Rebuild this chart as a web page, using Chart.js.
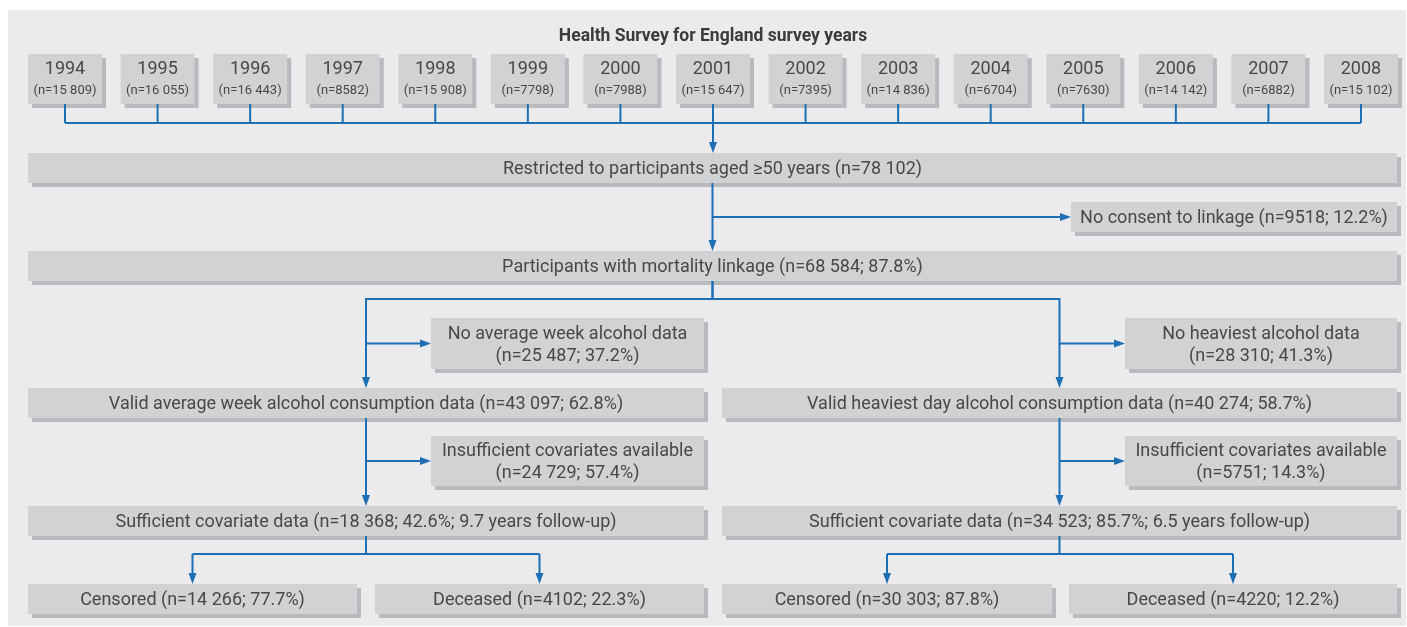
<!DOCTYPE html>
<html>
<head>
<meta charset="utf-8">
<script src="https://cdn.jsdelivr.net/npm/chart.js@4.4.1/dist/chart.umd.min.js"></script>
<style>
  html, body { margin: 0; padding: 0; background: #fff; }
  #wrap { width: 1407px; height: 627px; }
</style>
</head>
<body>
<div id="wrap"><canvas id="flow" width="1407" height="627"></canvas></div>
<script>
// --- data ---
const chartTitle = 'Health Survey for England survey years';
const surveyYears = ['1994', '1995', '1996', '1997', '1998', '1999', '2000', '2001',
  '2002', '2003', '2004', '2005', '2006', '2007', '2008'];
const surveyCounts = ['(n=15 809)', '(n=16 055)', '(n=16 443)', '(n=8582)', '(n=15 908)',
  '(n=7798)', '(n=7988)', '(n=15 647)', '(n=7395)', '(n=14 836)', '(n=6704)',
  '(n=7630)', '(n=14 142)', '(n=6882)', '(n=15 102)'];
const stepLabels = [
  ['Restricted to participants aged ≥50 years (n=78 102)'],
  ['No consent to linkage (n=9518; 12.2%)'],
  ['Participants with mortality linkage (n=68 584; 87.8%)'],
  ['No average week alcohol data', '(n=25 487; 37.2%)'],
  ['Valid average week alcohol consumption data (n=43 097; 62.8%)'],
  ['Insufficient covariates available', '(n=24 729; 57.4%)'],
  ['Sufficient covariate data (n=18 368; 42.6%; 9.7 years follow-up)'],
  ['Censored (n=14 266; 77.7%)'],
  ['Deceased (n=4102; 22.3%)'],
  ['No heaviest alcohol data', '(n=28 310; 41.3%)'],
  ['Valid heaviest day alcohol consumption data (n=40 274; 58.7%)'],
  ['Insufficient covariates available', '(n=5751; 14.3%)'],
  ['Sufficient covariate data (n=34 523; 85.7%; 6.5 years follow-up)'],
  ['Censored (n=30 303; 87.8%)'],
  ['Deceased (n=4220; 12.2%)']
];

// --- layout (design units = pixels of a 1407 x 627 page) ---
const cols = {
  full: [28, 1397], left: [28, 704], right: [722, 1397],
  sideL: [431, 704], sideR: [1125, 1397], consent: [1071, 1397],
  q1: [28, 357], q2: [375, 704], q3: [722, 1052], q4: [1069, 1397]
};
const rows = {
  years: [54, 104], restrict: [153, 183], consent: [202, 232], linked: [251, 281],
  missing: [318, 369], valid: [388, 418], covar: [436, 486],
  sufficient: [506, 536], outcome: [584, 614]
};
const stepBoxes = [
  ['full', 'restrict'], ['consent', 'consent'], ['full', 'linked'],
  ['sideL', 'missing'], ['left', 'valid'], ['sideL', 'covar'], ['left', 'sufficient'],
  ['q1', 'outcome'], ['q2', 'outcome'],
  ['sideR', 'missing'], ['right', 'valid'], ['sideR', 'covar'], ['right', 'sufficient'],
  ['q3', 'outcome'], ['q4', 'outcome']
];
const yearLeft = 28, yearWidth = 74, yearPitch = 92.57;
const bracketY = 123, splitY = 299, outcomeY = 554;

const BLUE = '#1f6fb5';
const BOX = '#d1d2d4';
const SHADOW = '#b9babd';
const INK = '#48484a';
const FONT = 'Roboto, "Noto Sans", sans-serif';
const ARROW_LEN = 11, ARROW_HALF = 4;

const mid = (a) => (a[0] + a[1]) / 2;
const yearCx = (i) => yearLeft + i * yearPitch + yearWidth / 2;

// connectors built from the layout
const links = [];
surveyYears.forEach((y, i) => {
  if (i !== 7) links.push({ pts: [[yearCx(i), rows.years[1]], [yearCx(i), bracketY]] });
});
links.push({ pts: [[yearCx(0), bracketY], [yearCx(14), bracketY]] });
links.push({ pts: [[yearCx(7), rows.years[1]], [yearCx(7), rows.restrict[0]]], arrow: true });
const trunk = mid(cols.full);
links.push({ pts: [[trunk, rows.restrict[1]], [trunk, rows.linked[0]]], arrow: true });
links.push({ pts: [[trunk, mid(rows.consent)], [cols.consent[0], mid(rows.consent)]], arrow: true });
[['left', 'sideL', 'q1', 'q2'], ['right', 'sideR', 'q3', 'q4']].forEach(([c, s, a, b]) => {
  const x = mid(cols[c]);
  links.push({ pts: [[trunk, rows.linked[1]], [trunk, splitY], [x, splitY], [x, rows.valid[0]]], arrow: true });
  links.push({ pts: [[x, mid(rows.missing)], [cols[s][0], mid(rows.missing)]], arrow: true });
  links.push({ pts: [[x, rows.valid[1]], [x, rows.sufficient[0]]], arrow: true });
  links.push({ pts: [[x, mid(rows.covar)], [cols[s][0], mid(rows.covar)]], arrow: true });
  links.push({ pts: [[x, rows.sufficient[1]], [x, outcomeY]] });
  links.push({ pts: [[mid(cols[a]), outcomeY], [mid(cols[a]), rows.outcome[0]]], arrow: true });
  links.push({ pts: [[mid(cols[b]), outcomeY], [mid(cols[b]), rows.outcome[0]]], arrow: true });
  links.push({ pts: [[mid(cols[a]), outcomeY], [mid(cols[b]), outcomeY]] });
});

// shorten arrowed lines so the head covers the end
function trimmed(pts) {
  const p = pts.map((q) => q.slice());
  const n = p.length, a = p[n - 2], b = p[n - 1];
  const dx = b[0] - a[0], dy = b[1] - a[1], len = Math.hypot(dx, dy);
  b[0] -= dx / len * (ARROW_LEN - 2);
  b[1] -= dy / len * (ARROW_LEN - 2);
  return p;
}

const datasets = links.map((l) => ({
  data: (l.arrow ? trimmed(l.pts) : l.pts).map(([x, y]) => ({ x, y })),
  arrowTo: l.arrow ? l.pts[l.pts.length - 1] : null,
  arrowFrom: l.arrow ? l.pts[l.pts.length - 2] : null,
  showLine: true,
  borderColor: BLUE,
  borderWidth: 2,
  borderJoinStyle: 'miter',
  borderCapStyle: 'butt',
  pointRadius: 0,
  pointHoverRadius: 0,
  tension: 0,
  fill: false
}));

function drawBox(ctx, sx, sy, x0, x1, y0, y1) {
  const l = sx.getPixelForValue(x0), r = sx.getPixelForValue(x1);
  const t = sy.getPixelForValue(y0), b = sy.getPixelForValue(y1);
  ctx.fillStyle = SHADOW;
  ctx.fillRect(l + 4, t + 4, r - l, b - t);
  ctx.fillStyle = BOX;
  ctx.fillRect(l, t, r - l, b - t);
}

const flowPlugin = {
  id: 'flow',
  beforeDraw(chart) {
    const { ctx } = chart;
    const sx = chart.scales.x, sy = chart.scales.y;
    ctx.save();
    ctx.fillStyle = '#ffffff';
    ctx.fillRect(0, 0, chart.width, chart.height);
    ctx.fillStyle = '#ebebed';
    const l = sx.getPixelForValue(8), t = sy.getPixelForValue(10);
    ctx.fillRect(l, t, sx.getPixelForValue(1406) - l, sy.getPixelForValue(626) - t);

    ctx.textAlign = 'center';
    ctx.textBaseline = 'middle';
    ctx.fillStyle = '#3b3b3d';
    ctx.font = `bold 17.5px ${FONT}`;
    ctx.fillText(chartTitle, sx.getPixelForValue(713), sy.getPixelForValue(36.5));

    surveyYears.forEach((yr, i) => {
      const x0 = yearLeft + i * yearPitch;
      drawBox(ctx, sx, sy, x0, x0 + yearWidth, rows.years[0], rows.years[1]);
      ctx.fillStyle = INK;
      ctx.font = `18px ${FONT}`;
      ctx.fillText(yr, sx.getPixelForValue(yearCx(i)), sy.getPixelForValue(69));
      ctx.font = `13px ${FONT}`;
      ctx.fillText(surveyCounts[i], sx.getPixelForValue(yearCx(i)), sy.getPixelForValue(91));
    });

    stepBoxes.forEach(([c, r], i) => {
      drawBox(ctx, sx, sy, cols[c][0], cols[c][1], rows[r][0], rows[r][1]);
      const lines = stepLabels[i];
      ctx.fillStyle = INK;
      ctx.font = `18px ${FONT}`;
      const cy = mid(rows[r]) + 1.5;
      lines.forEach((txt, k) => {
        const y = cy + (k - (lines.length - 1) / 2) * 22;
        ctx.fillText(txt, sx.getPixelForValue(mid(cols[c])), sy.getPixelForValue(y));
      });
    });
    ctx.restore();
  },
  afterDatasetsDraw(chart) {
    const { ctx } = chart;
    const sx = chart.scales.x, sy = chart.scales.y;
    ctx.save();
    ctx.fillStyle = BLUE;
    chart.data.datasets.forEach((ds) => {
      if (!ds.arrowTo) return;
      const tx = sx.getPixelForValue(ds.arrowTo[0]), ty = sy.getPixelForValue(ds.arrowTo[1]);
      const fx = sx.getPixelForValue(ds.arrowFrom[0]), fy = sy.getPixelForValue(ds.arrowFrom[1]);
      const len = Math.hypot(tx - fx, ty - fy);
      const ux = (tx - fx) / len, uy = (ty - fy) / len;
      const bx = tx - ux * ARROW_LEN, by = ty - uy * ARROW_LEN;
      ctx.beginPath();
      ctx.moveTo(tx, ty);
      ctx.lineTo(bx - uy * ARROW_HALF, by + ux * ARROW_HALF);
      ctx.lineTo(bx + uy * ARROW_HALF, by - ux * ARROW_HALF);
      ctx.closePath();
      ctx.fill();
    });
    ctx.restore();
  }
};

new Chart(document.getElementById('flow'), {
  type: 'scatter',
  data: { datasets },
  options: {
    responsive: false,
    animation: false,
    events: [],
    layout: { padding: 0 },
    plugins: { legend: { display: false }, tooltip: { enabled: false } },
    scales: {
      x: { type: 'linear', min: 0, max: 1407, display: false },
      y: { type: 'linear', min: 0, max: 627, reverse: true, display: false }
    }
  },
  plugins: [flowPlugin]
});
</script>
</body>
</html>
